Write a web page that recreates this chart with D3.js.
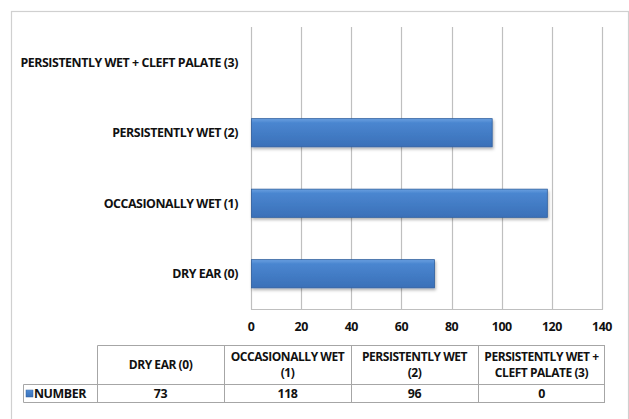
<!DOCTYPE html>
<html><head><meta charset="utf-8">
<script src="https://cdn.jsdelivr.net/npm/d3@7"></script>
<style>body{margin:0;background:#fff}svg{display:block}</style>
</head><body>
<script>
const categories = ["DRY EAR (0)", "OCCASIONALLY WET (1)", "PERSISTENTLY WET (2)", "PERSISTENTLY WET + CLEFT PALATE (3)"];
const tableHeaders = [["DRY EAR (0)"], ["OCCASIONALLY WET", "(1)"], ["PERSISTENTLY WET", "(2)"], ["PERSISTENTLY WET +", "CLEFT PALATE (3)"]];
const seriesName = "NUMBER";
const values = [73, 118, 96, 0];
const xTicks = [0, 20, 40, 60, 80, 100, 120, 140];

(function(){
const W = 629, H = 419;
const font = "'Open Sans',sans-serif";
const fs = 12.4, ls = "-0.45px";
const svg = d3.select("body").append("svg").attr("width", W).attr("height", H);

const defs = svg.append("defs");
const g = defs.append("linearGradient").attr("id","bar").attr("x1",0).attr("y1",0).attr("x2",0).attr("y2",1);
g.append("stop").attr("offset","0").attr("stop-color","#6aa0e0");
g.append("stop").attr("offset","0.15").attr("stop-color","#4a86d0");
g.append("stop").attr("offset","1").attr("stop-color","#3a70b8");
const f = defs.append("filter").attr("id","sh").attr("x","-5%").attr("y","-20%").attr("width","110%").attr("height","160%");
f.append("feDropShadow").attr("dx",1).attr("dy",2).attr("stdDeviation",1.5).attr("flood-color","#000").attr("flood-opacity",0.3);

svg.append("rect").attr("x",11.5).attr("y",11.5).attr("width",W-12).attr("height",H).attr("fill","none").attr("stroke","#d0d0d0").attr("stroke-width",1.2);

const x = d3.scaleLinear().domain([0,140]).range([251,602]);
const y = d3.scaleBand().domain(categories.slice().reverse()).range([27,309]).paddingInner(0.6).paddingOuter(0.3);

svg.append("g").selectAll("line").data(xTicks).join("line")
  .attr("x1",d=>Math.round(x(d))+0.5).attr("x2",d=>Math.round(x(d))+0.5)
  .attr("y1",27).attr("y2",309.5).attr("stroke","#bfbfbf").attr("stroke-width",1.2);
svg.append("line").attr("x1",x(0)).attr("x2",x(140)+1).attr("y1",309.5).attr("y2",309.5).attr("stroke","#bfbfbf").attr("stroke-width",1.2);

svg.append("g").selectAll("rect").data(categories.map((c,i)=>({c,v:values[i]}))).join("rect")
  .attr("x",x(0)+0.5).attr("y",d=>y(d.c)).attr("width",d=>Math.max(0,x(d.v)-x(0)))
  .attr("height",y.bandwidth()).attr("fill","url(#bar)").attr("stroke","#2f5f9e").attr("stroke-width",d=>d.v>0?0.8:0)
  .attr("filter","url(#sh)");

function txt(sel, size){ return sel.attr("font-family",font).attr("font-weight","bold").attr("font-size",size||fs).attr("letter-spacing",ls).attr("fill","#111"); }

txt(svg.append("g").selectAll("text").data(categories).join("text")
  .attr("x",238).attr("y",d=>y(d)+y.bandwidth()/2).attr("dy","0.35em")
  .attr("text-anchor","end")).text(d=>d);

txt(svg.append("g").selectAll("text").data(xTicks).join("text")
  .attr("x",d=>x(d)).attr("y",327).attr("dy","0.35em").attr("text-anchor","middle")).text(d=>d);

const colX = d3.scaleBand().domain(categories).range([97,605]);
const tTop = 345.5, tMid = 384.5, tBot = 402.5, legL = 23.5;
const tg = svg.append("g").attr("stroke","#a6a6a6").attr("stroke-width",1).attr("fill","none");
tg.append("line").attr("x1",97.5).attr("x2",605).attr("y1",tTop).attr("y2",tTop);
tg.append("line").attr("x1",legL).attr("x2",605).attr("y1",tMid).attr("y2",tMid);
tg.append("line").attr("x1",legL).attr("x2",605).attr("y1",tBot).attr("y2",tBot);
tg.append("line").attr("x1",legL).attr("x2",legL).attr("y1",tMid).attr("y2",tBot);
tg.selectAll("line.v").data(categories).join("line").attr("class","v")
  .attr("x1",d=>Math.round(colX(d))+0.5).attr("x2",d=>Math.round(colX(d))+0.5).attr("y1",tTop).attr("y2",tBot);
tg.append("line").attr("x1",604.5).attr("x2",604.5).attr("y1",tTop).attr("y2",tBot);

categories.forEach((c,i)=>{
  const cx = colX(c)+colX.bandwidth()/2;
  const lines = tableHeaders[i];
  lines.forEach((l,j)=>{
    const yy = (tTop+tMid)/2 + (j-(lines.length-1)/2)*16.5;
    txt(svg.append("text").attr("text-anchor","middle"), 12)
      .attr("x",cx).attr("y",yy).attr("dy","0.35em").text(l);
  });
  txt(svg.append("text").attr("x",cx).attr("y",(tMid+tBot)/2).attr("dy","0.35em").attr("text-anchor","middle")).text(values[i]);
});
svg.append("rect").attr("x",26).attr("y",(tMid+tBot)/2-3.5).attr("width",7).attr("height",7).attr("fill","url(#bar)").attr("stroke","#2f5f9e").attr("stroke-width",0.5);
txt(svg.append("text").attr("x",34).attr("y",(tMid+tBot)/2).attr("dy","0.35em")).text(seriesName);
})();
</script>
</body></html>
